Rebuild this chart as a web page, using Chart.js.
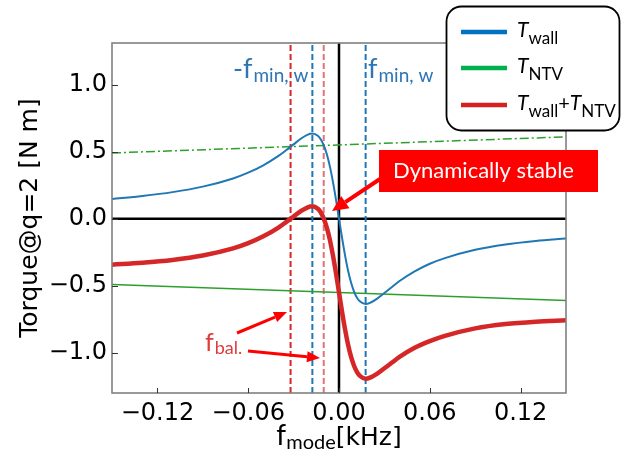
<!DOCTYPE html>
<html>
<head>
<meta charset="utf-8">
<script src="https://cdn.jsdelivr.net/npm/chart.js@4"></script>
<style>
html, body { margin: 0; padding: 0; background: #fff; }
#wrap { width: 628px; height: 453px; position: relative; }
</style>
</head>
<body>
<div id="wrap"><canvas id="torque"></canvas></div>
<script>
// mode frequency [kHz]
const fMode = [-0.15, -0.13, -0.11, -0.09, -0.07, -0.06, -0.05, -0.04, -0.035, -0.03, -0.025, -0.021, -0.0176,
    -0.014, -0.012, -0.01, -0.008, -0.006, -0.004, -0.002, 0, 0.002, 0.004, 0.006, 0.008, 0.01, 0.012, 0.014,
    0.0176, 0.021, 0.025, 0.03, 0.035, 0.04, 0.05, 0.06, 0.07, 0.09, 0.11, 0.13, 0.15]
// wall torque
const tWall = [0.147, 0.169, 0.198, 0.239, 0.300, 0.343, 0.398, 0.468, 0.510, 0.554, 0.598, 0.625, 0.635,
    0.618, 0.591, 0.545, 0.478, 0.388, 0.274, 0.142, 0, -0.142, -0.274, -0.388, -0.478, -0.545, -0.591, -0.618,
    -0.637, -0.625, -0.598, -0.554, -0.509, -0.465, -0.393, -0.336, -0.294, -0.232, -0.192, -0.166, -0.147]
// wall + NTV
const tTotal = [-0.343, -0.329, -0.308, -0.275, -0.222, -0.183, -0.132, -0.066, -0.026, 0.016, 0.058, 0.083, 0.092,
    0.074, 0.046, -0.001, -0.069, -0.160, -0.274, -0.407, -0.550, -0.693, -0.826, -0.940, -1.031, -1.099, -1.146, -1.174,
    -1.194, -1.183, -1.158, -1.116, -1.073, -1.031, -0.963, -0.913, -0.874, -0.818, -0.786, -0.768, -0.757]
// NTV torque (straight lines)
const fNtv = [-0.15, 0.15]
const tNtv = [-0.49, -0.61]
const tNtvMirror = [0.49, 0.61]
// marker frequencies
const fMinWall = [-0.0176, 0.0176]
const fBal = [-0.032, -0.0101]
const xTicks = [-0.12, -0.06, 0, 0.06, 0.12]
const yTicks = [-1.0, -0.5, 0, 0.5, 1.0]

const Y_MIN = -1.3, Y_MAX = 1.31, X_MIN = -0.15, X_MAX = 0.15

function pts(xs, ys) {
    return xs.map((x, i) => ({x: x, y: ys[i]}))
}
function vline(x) {
    return [{x: x, y: Y_MIN}, {x: x, y: Y_MAX}]
}
function minus(s) {
    return s.replace('-', '\u2212')
}

function rich(ctx, x, y, parts) {
    parts.forEach(p => {
        ctx.font = p.font
        ctx.fillStyle = p.color
        ctx.fillText(p.text, x, y + (p.dy || 0))
        x += ctx.measureText(p.text).width + (p.gap || 0)
    })
    return x
}
function richWidth(ctx, parts) {
    return parts.reduce((w, p) => {
        ctx.font = p.font
        return w + ctx.measureText(p.text).width + (p.gap || 0)
    }, 0)
}
function arrow(ctx, x1, y1, x2, y2, lw, head, hw) {
    const ang = Math.atan2(y2 - y1, x2 - x1)
    const bx = x2 - head * Math.cos(ang), by = y2 - head * Math.sin(ang)
    ctx.strokeStyle = '#ff0000'
    ctx.fillStyle = '#ff0000'
    ctx.lineWidth = lw
    ctx.beginPath()
    ctx.moveTo(x1, y1)
    ctx.lineTo(bx, by)
    ctx.stroke()
    ctx.beginPath()
    ctx.moveTo(x2, y2)
    ctx.lineTo(bx + hw / 2 * Math.sin(ang), by - hw / 2 * Math.cos(ang))
    ctx.lineTo(bx - hw / 2 * Math.sin(ang), by + hw / 2 * Math.cos(ang))
    ctx.closePath()
    ctx.fill()
}

const overlay = {
    id: 'overlay',
    afterDatasetsDraw(chart) {
        const {ctx, chartArea: a, scales} = chart
        ctx.save()
        ctx.strokeStyle = '#808080'
        ctx.lineWidth = 1.6
        ctx.strokeRect(a.left, a.top, a.right - a.left, a.bottom - a.top)
        ctx.strokeStyle = '#333'
        ctx.lineWidth = 1
        ctx.beginPath()
        xTicks.forEach(v => {
            const px = Math.round(scales.x.getPixelForValue(v)) + 0.5
            ctx.moveTo(px, a.bottom)
            ctx.lineTo(px, a.bottom - 5)
        })
        yTicks.forEach(v => {
            const py = Math.round(scales.y.getPixelForValue(v)) + 0.5
            ctx.moveTo(a.left, py)
            ctx.lineTo(a.left + 6, py)
        })
        ctx.stroke()
        ctx.restore()
    },
    afterDraw(chart) {
        const {ctx, chartArea: a} = chart
        ctx.save()
        ctx.textBaseline = 'alphabetic'

        // y axis title
        ctx.save()
        ctx.translate(37, (a.top + a.bottom) / 2)
        ctx.rotate(-Math.PI / 2)
        ctx.textAlign = 'center'
        ctx.font = '25px "DejaVu Sans"'
        ctx.fillStyle = '#000'
        ctx.fillText('Torque@q=2 [N m]', 0, 0)
        ctx.restore()

        // x axis title
        ctx.textAlign = 'left'
        const xt = [
            {text: 'f', font: '28px Lato', color: '#000'},
            {text: 'mode', font: '20px Lato', color: '#000', dy: 4},
            {text: '[kHz]', font: '25px "DejaVu Sans"', color: '#000'}
        ]
        rich(ctx, (a.left + a.right) / 2 - richWidth(ctx, xt) / 2, 445, xt)

        // f_min,w labels
        const blueTxt = '#2e75b6'
        rich(ctx, 233, 78, [
            {text: '-f', font: '27px Lato', color: blueTxt, gap: 1},
            {text: 'min, w', font: '19px Lato', color: blueTxt, dy: 4}
        ])
        rich(ctx, 368, 78, [
            {text: 'f', font: '27px Lato', color: blueTxt, gap: 1},
            {text: 'min, w', font: '19px Lato', color: blueTxt, dy: 4}
        ])

        // f_bal label + arrows
        rich(ctx, 205, 351, [
            {text: 'f', font: '25px Lato', color: '#e03a3a', gap: 1},
            {text: 'bal.', font: '18px Lato', color: '#e03a3a', dy: 3}
        ])
        arrow(ctx, 237, 333, 287, 312, 3, 13, 11)
        arrow(ctx, 248, 351, 320, 358, 3, 13, 11)

        // dynamically stable box + arrow
        arrow(ctx, 380, 179, 332, 211, 4, 16, 15)
        ctx.fillStyle = '#ff0000'
        ctx.fillRect(379, 150, 219, 42)
        ctx.font = '20px Lato'
        const fs = 20 * 181 / ctx.measureText('Dynamically stable').width
        ctx.font = fs.toFixed(2) + 'px Lato'
        ctx.fillStyle = '#fff'
        ctx.fillText('Dynamically stable', 393, 178)

        // legend
        ctx.beginPath()
        ctx.roundRect(446.5, 6.5, 173, 124, 15)
        ctx.fillStyle = '#fff'
        ctx.fill()
        ctx.strokeStyle = '#000'
        ctx.lineWidth = 1.8
        ctx.stroke()
        const rows = [
            {color: '#0070c0', y: 32, parts: [['T', 'wall']]},
            {color: '#00b050', y: 68, parts: [['T', 'NTV']]},
            {color: '#d42020', y: 105, parts: [['T', 'wall'], ['T', 'NTV']]}
        ]
        rows.forEach(r => {
            ctx.strokeStyle = r.color
            ctx.lineWidth = 4.5
            ctx.beginPath()
            ctx.moveTo(461, r.y)
            ctx.lineTo(507, r.y)
            ctx.stroke()
            const parts = []
            r.parts.forEach((p, i) => {
                if (i > 0) parts.push({text: '+', font: '20px Lato', color: '#000', dy: 0})
                parts.push({text: p[0], font: 'italic 21px Lato', color: '#000', gap: 0})
                parts.push({text: p[1], font: '17px Lato', color: '#000', dy: 7})
            })
            rich(ctx, 517, r.y + 5, parts)
        })
        ctx.restore()
    }
}

const lineBase = {pointRadius: 0, fill: false, borderCapStyle: 'butt'}

new Chart(document.getElementById('torque'), {
    type: 'line',
    data: {
        datasets: [
            {...lineBase, label: 'Twall+TNTV', data: pts(fMode, tTotal), borderColor: '#d62728', borderWidth: 4.5, cubicInterpolationMode: 'monotone', order: 1},
            {...lineBase, label: 'Twall', data: pts(fMode, tWall), borderColor: '#1f77b4', borderWidth: 2, cubicInterpolationMode: 'monotone', order: 2},
            {...lineBase, label: 'TNTV', data: pts(fNtv, tNtv), borderColor: '#2ca02c', borderWidth: 1.5, order: 3},
            {...lineBase, label: '-TNTV', data: pts(fNtv, tNtvMirror), borderColor: '#2ca02c', borderWidth: 1.5, borderDash: [9, 3, 2, 3], order: 3},
            {...lineBase, label: '-fmin', data: vline(fMinWall[0]), borderColor: '#1f77b4', borderWidth: 2, borderDash: [6, 3], order: 4},
            {...lineBase, label: 'fmin', data: vline(fMinWall[1]), borderColor: '#1f77b4', borderWidth: 2, borderDash: [6, 3], order: 4},
            {...lineBase, label: 'fbal1', data: vline(fBal[0]), borderColor: '#d62728', borderWidth: 2, borderDash: [6, 3], order: 4},
            {...lineBase, label: 'fbal2', data: vline(fBal[1]), borderColor: 'rgba(214,39,40,0.65)', borderWidth: 2, borderDash: [6, 3], order: 4},
            {...lineBase, label: 'zeroY', data: [{x: X_MIN, y: 0}, {x: X_MAX, y: 0}], borderColor: '#000', borderWidth: 2.5, order: 5},
            {...lineBase, label: 'zeroX', data: vline(0), borderColor: '#000', borderWidth: 2.5, order: 5}
        ]
    },
    options: {
        animation: false,
        responsive: true,
        maintainAspectRatio: false,
        layout: {padding: {top: 43, right: 62, left: 0, bottom: 0}},
        plugins: {legend: {display: false}, tooltip: {enabled: false}},
        scales: {
            x: {
                type: 'linear',
                min: X_MIN,
                max: X_MAX,
                afterBuildTicks: s => { s.ticks = xTicks.map(v => ({value: v})) },
                afterFit: s => { s.height = 60 },
                grid: {display: false, drawTicks: false},
                border: {display: false},
                ticks: {
                    font: {family: 'DejaVu Sans', size: 24},
                    color: '#000',
                    padding: 6,
                    maxRotation: 0,
                    autoSkip: false,
                    callback: v => minus(v.toFixed(2))
                }
            },
            y: {
                type: 'linear',
                min: Y_MIN,
                max: Y_MAX,
                afterBuildTicks: s => { s.ticks = yTicks.map(v => ({value: v})) },
                afterFit: s => { s.width = 112 },
                grid: {display: false, drawTicks: false},
                border: {display: false},
                ticks: {
                    font: {family: 'DejaVu Sans', size: 24},
                    color: '#000',
                    padding: 5,
                    autoSkip: false,
                    callback: v => minus(v.toFixed(1))
                }
            }
        }
    },
    plugins: [overlay]
})
</script>
</body>
</html>
